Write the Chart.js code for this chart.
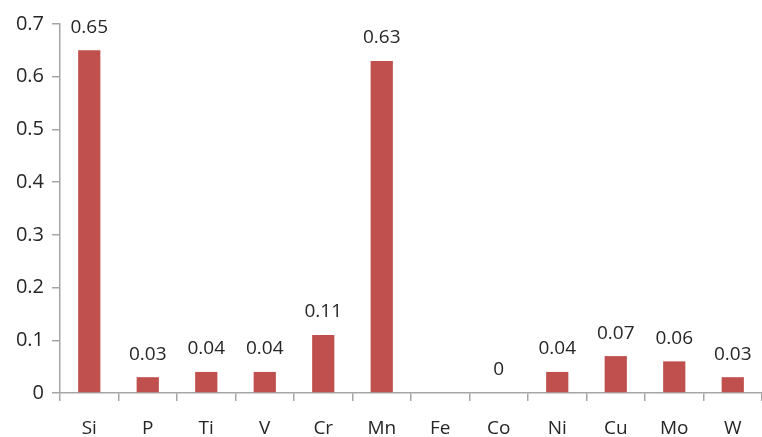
<!DOCTYPE html>
<html>
<head>
<meta charset="utf-8">
<script src="https://cdn.jsdelivr.net/npm/chart.js@4"></script>
<style>
  html, body { margin: 0; padding: 0; background: #fff; }
  #wrap { width: 762px; height: 437px; position: relative; }
</style>
</head>
<body>
<div id="wrap"><canvas id="grafico"></canvas></div>
<script>
const elementos = ["Si", "P", "Ti", "V", "Cr", "Mn", "Fe", "Co", "Ni", "Cu", "Mo", "W"];
const valores = [0.65, 0.03, 0.04, 0.04, 0.11, 0.63, null, 0, 0.04, 0.07, 0.06, 0.03];
const ticksY = [0, 0.1, 0.2, 0.3, 0.4, 0.5, 0.6, 0.7];

const fuente = "'Open Sans', 'Liberation Sans', sans-serif";

// etiquetas encima de cada barra
const etiquetas = {
    id: "etiquetas",
    afterDatasetsDraw(chart) {
        const ctx = chart.ctx;
        const meta = chart.getDatasetMeta(0);
        ctx.save();
        ctx.font = "19px " + fuente;
        ctx.fillStyle = "#262626";
        ctx.textAlign = "center";
        ctx.textBaseline = "middle";
        meta.data.forEach((bar, i) => {
            const v = valores[i];
            if (v === null) return;
            ctx.fillText(String(v), bar.x, bar.y - 23);
        });
        ctx.restore();
    }
};

new Chart(document.getElementById("grafico"), {
    type: "bar",
    data: {
        labels: elementos,
        datasets: [{
            data: valores,
            backgroundColor: "#C0504D",
            borderWidth: 0,
            categoryPercentage: 1,
            barPercentage: 0.38
        }]
    },
    options: {
        responsive: true,
        maintainAspectRatio: false,
        animation: false,
        layout: { padding: { top: 24, right: 0, left: 0, bottom: 0 } },
        plugins: {
            legend: { display: false },
            tooltip: { enabled: false }
        },
        scales: {
            x: {
                grid: {
                    display: true,
                    drawOnChartArea: false,
                    drawTicks: true,
                    tickLength: 8,
                    color: "#a6a6a6",
                    lineWidth: 1.5
                },
                border: { display: true, color: "#a6a6a6", width: 1.5 },
                ticks: {
                    color: "#262626",
                    font: { size: 19, family: fuente },
                    padding: 16,
                    maxRotation: 0
                },
                afterFit(scale) { scale.height = 44; }
            },
            y: {
                min: 0,
                max: 0.7,
                afterBuildTicks(scale) {
                    scale.ticks = ticksY.map(v => ({ value: v }));
                },
                grid: {
                    display: true,
                    drawOnChartArea: false,
                    drawTicks: true,
                    tickLength: 8,
                    color: "#a6a6a6",
                    lineWidth: 1.5
                },
                border: { display: true, color: "#a6a6a6", width: 1.5 },
                ticks: {
                    color: "#262626",
                    font: { size: 20, family: fuente },
                    padding: 8,
                    callback: v => String(Math.round(v * 10) / 10)
                },
                afterFit(scale) { scale.width = 60; }
            }
        }
    },
    plugins: [etiquetas]
});
</script>
</body>
</html>
